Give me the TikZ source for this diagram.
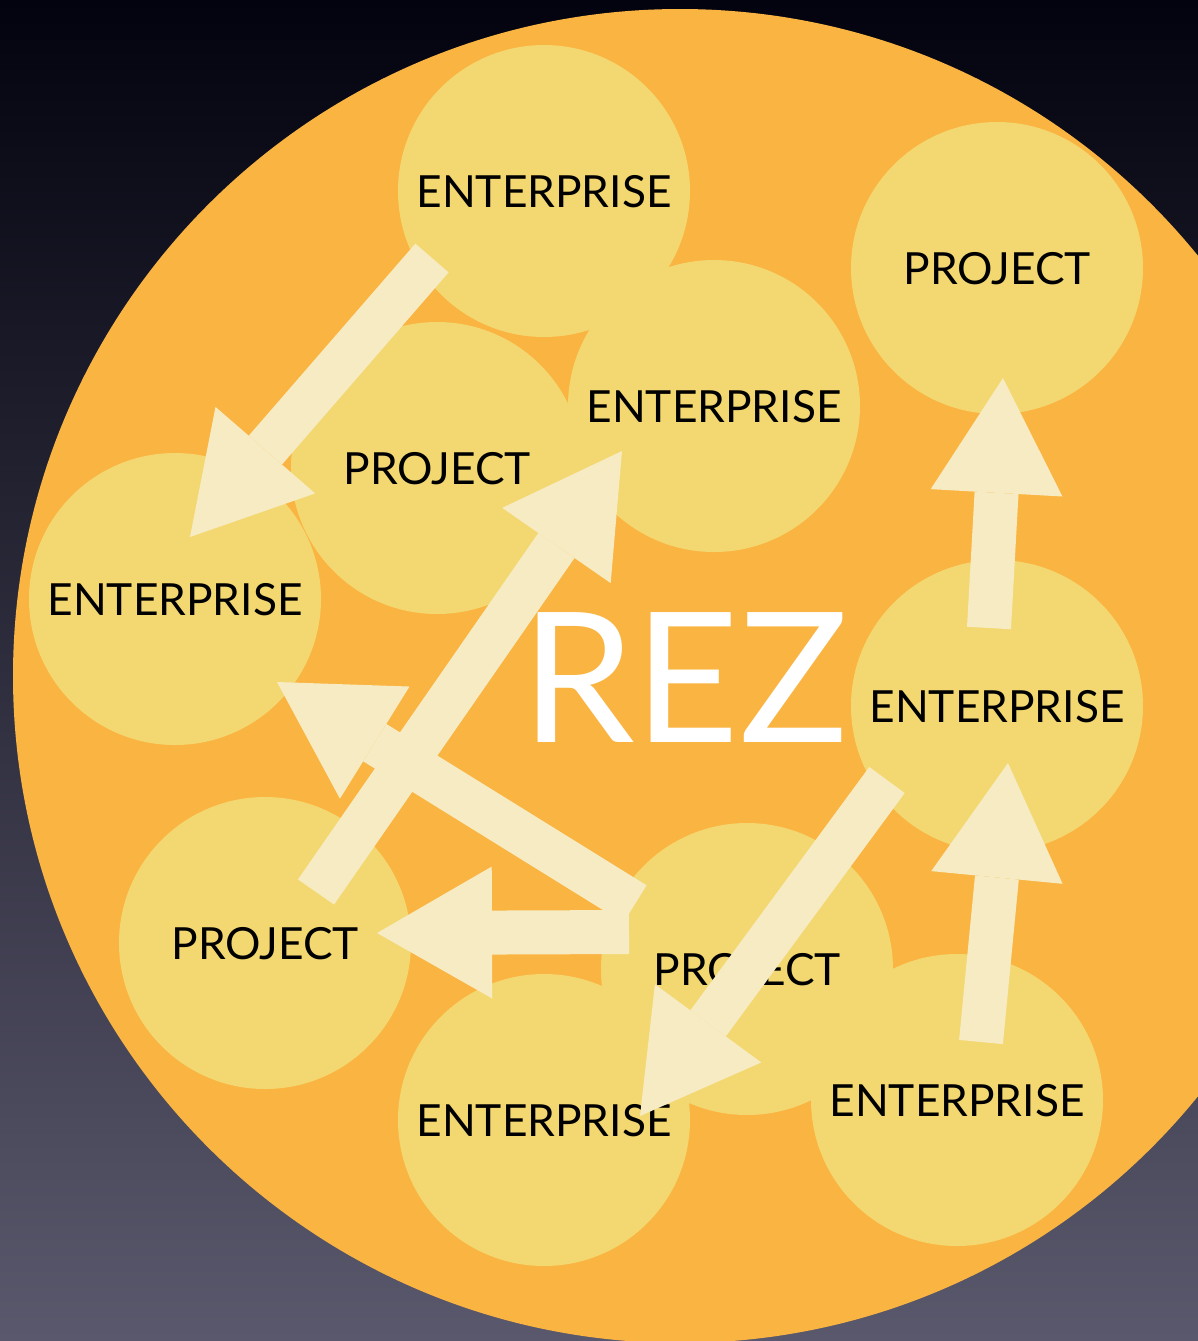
\documentclass[tikz,border=0pt]{standalone}
\usepackage{fontspec}
\setmainfont{Lato}
\usetikzlibrary{arrows.meta}
\definecolor{bgtop}{HTML}{03030F}
\definecolor{bgmid}{HTML}{1F1E40}
\definecolor{bgbot}{HTML}{5A586C}
\definecolor{rezorange}{HTML}{FAB441}
\definecolor{rezyellow}{HTML}{F3D871}
\definecolor{rezcream}{HTML}{F6EBC2}

\begin{document}
\begin{tikzpicture}[disc/.style={circle,fill=rezyellow,minimum size=2.92cm,inner sep=0pt,
      text depth=0pt,font=\fontsize{12.6pt}{15pt}\selectfont},
    fatarrow/.style={draw=rezcream,line width=0.44cm,
      -{Triangle[length=1.15cm,width=1.32cm,line width=0pt]}}]
    \useasboundingbox (0,0) rectangle (11.98,-13.41);
    \shade[top color=bgtop,middle color=bgmid,bottom color=bgbot] (0,0) rectangle (11.98,-13.41);
    \begin{scope}
      \clip (0,0) rectangle (11.98,-13.41);
      \fill[rezorange] (6.80,-6.76) circle (6.67);
    \end{scope}
    % circles
    \node[disc] (ent1) at (5.44,-1.91) {ENTERPRISE};
    \node[disc] (proj1) at (9.97,-2.68) {PROJECT};
    \node[disc] (ent2) at (7.14,-4.06) {ENTERPRISE};
    \node[disc] (proj2) at (4.37,-4.68) {PROJECT};
    \node[disc] (ent3) at (1.75,-5.99) {ENTERPRISE};
    \node[disc] (ent4) at (9.97,-7.06) {ENTERPRISE};
    \node[disc] (proj3) at (2.65,-9.43) {PROJECT};
    \node[disc] (proj4) at (7.47,-9.69) {PROJECT};
    \node[disc] (ent5) at (5.44,-11.20) {ENTERPRISE};
    \node[disc] (ent6) at (9.57,-11.00) {ENTERPRISE};
    \node[text=white,inner sep=0pt,font=\fontsize{51.6pt}{60pt}\selectfont] (rez) at (6.85,-6.78) {REZ};
    % arrow ends
    \coordinate (a1s) at (4.32,-2.58); \coordinate (a1e) at (1.90,-5.37);
    \coordinate (a2s) at (3.16,-8.92); \coordinate (a2e) at (6.22,-4.51);
    \coordinate (a3s) at (6.35,-9.04); \coordinate (a3e) at (2.77,-6.82);
    \coordinate (a4s) at (6.29,-9.32); \coordinate (a4e) at (3.77,-9.33);
    \coordinate (a5s) at (8.87,-7.80); \coordinate (a5e) at (6.40,-11.16);
    \coordinate (a6s) at (9.81,-10.42); \coordinate (a6e) at (10.08,-7.63);
    \coordinate (a7s) at (9.89,-6.28); \coordinate (a7e) at (10.03,-3.78);
    \draw[fatarrow] (a1s) -- (a1e);
    \draw[fatarrow] (a2s) -- (a2e);
    \draw[fatarrow] (a3s) -- (a3e);
    \draw[fatarrow] (a4s) -- (a4e);
    \draw[fatarrow] (a5s) -- (a5e);
    \draw[fatarrow] (a6s) -- (a6e);
    \draw[fatarrow] (a7s) -- (a7e);
  \end{tikzpicture}
\end{document}
